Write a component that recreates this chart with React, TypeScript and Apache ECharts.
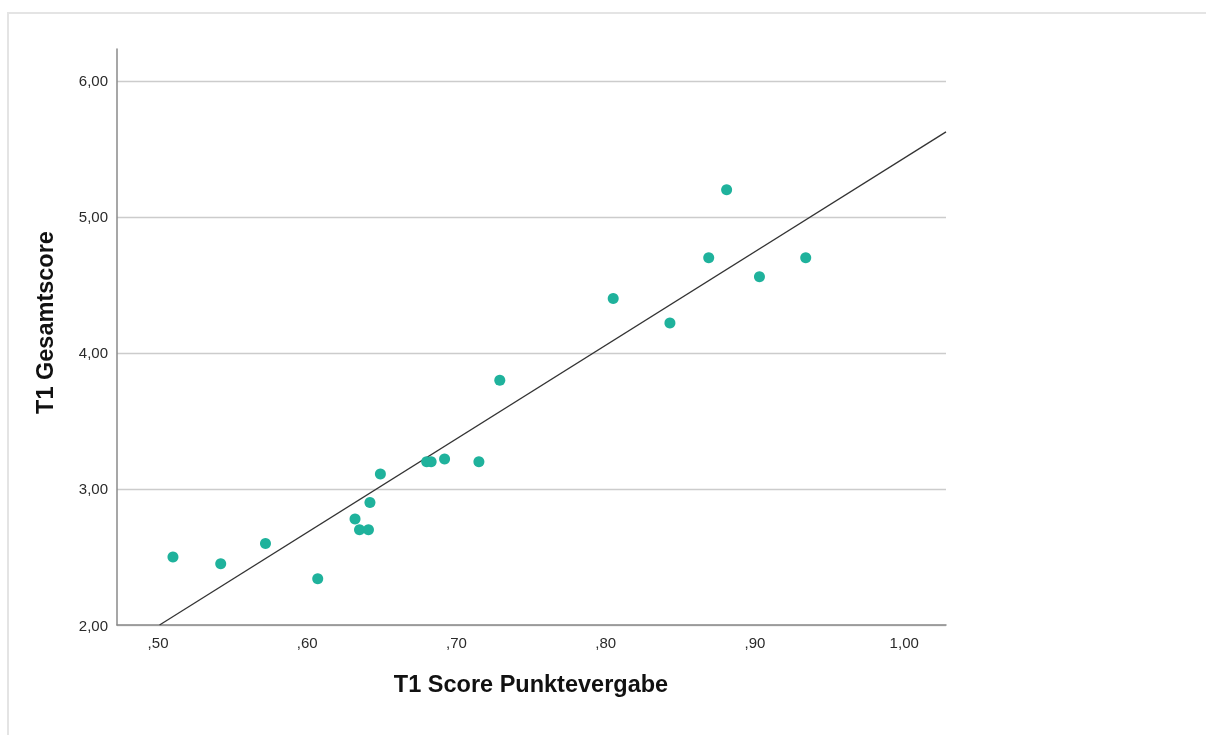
import React, { useEffect, useRef } from "react";
import * as echarts from "echarts";

const xValues = [0.51, 0.542, 0.572, 0.607, 0.632, 0.635, 0.641, 0.642, 0.649, 0.68, 0.683, 0.692, 0.715, 0.729, 0.805, 0.843, 0.869, 0.881, 0.903, 0.934];
const yValues = [2.5, 2.45, 2.6, 2.34, 2.78, 2.7, 2.7, 2.9, 3.11, 3.2, 3.2, 3.22, 3.2, 3.8, 4.4, 4.22, 4.7, 5.2, 4.56, 4.7];
const xTicks = [0.5, 0.6, 0.7, 0.8, 0.9, 1.0];
const fitIntercept = -1.447;
const fitSlope = 6.88;
const xMin = 0.4725;
const xMax = 1.028;
const yMin = 2;
const yMax = 6.235;

const fmt = (v: number) => {
  const s = v.toFixed(2).replace(".", ",");
  return s.startsWith("0,") ? s.slice(1) : s;
};

export default function App() {
  const ref = useRef<HTMLDivElement>(null);
  useEffect(() => {
    if (!ref.current) return;
    const chart = echarts.init(ref.current, undefined, { renderer: "svg" });
    const points = xValues.map((x, i) => [x, yValues[i]]);
    const xStart = (yMin - fitIntercept) / fitSlope;
    const fitLine = [
      [xStart, fitIntercept + fitSlope * xStart],
      [xMax, fitIntercept + fitSlope * xMax],
    ];
    const font = "'Liberation Sans', Arial, sans-serif";
    chart.setOption({
      animation: false,
      textStyle: { fontFamily: font },
      grid: { left: 109, right: 252, top: 41, bottom: 102 },
      xAxis: {
        type: "value",
        min: xMin,
        max: xMax,
        axisLine: { show: true, lineStyle: { color: "#8a8a8a", width: 1.5 } },
        axisTick: { show: false },
        splitLine: { show: false },
        axisLabel: {
          customValues: xTicks,
          formatter: (v: number) => fmt(v),
          fontSize: 15,
          color: "#2a2a2a",
          margin: 10,
          fontFamily: font,
        },
      },
      yAxis: {
        type: "value",
        min: yMin,
        max: yMax,
        interval: 1,
        axisLine: { show: true, lineStyle: { color: "#8a8a8a", width: 1.5 } },
        axisTick: { show: false },
        splitLine: { show: true, showMaxLine: false, lineStyle: { color: "#cccccc", width: 1.3 } },
        axisLabel: {
          showMaxLabel: false,
          formatter: (v: number) => (Math.abs(v - Math.round(v)) < 1e-9 ? fmt(v) : ""),
          fontSize: 15,
          color: "#2a2a2a",
          margin: 9,
          fontFamily: font,
        },
      },
      graphic: [
        {
          type: "text",
          x: 523,
          y: 676,
          style: {
            text: "T1 Score Punktevergabe",
            fontSize: 23.5,
            fontWeight: "bold",
            fontFamily: font,
            fill: "#111111",
            textAlign: "center",
            textVerticalAlign: "middle",
          },
        },
        {
          type: "text",
          x: 37,
          y: 314.5,
          rotation: Math.PI / 2,
          style: {
            text: "T1 Gesamtscore",
            fontSize: 23.5,
            fontWeight: "bold",
            fontFamily: font,
            fill: "#111111",
            textAlign: "center",
            textVerticalAlign: "middle",
          },
        },
      ],
      series: [
        {
          type: "line",
          data: fitLine,
          symbol: "none",
          clip: true,
          lineStyle: { color: "#333333", width: 1.3 },
          z: 2,
          silent: true,
        },
        {
          type: "scatter",
          data: points,
          symbolSize: 11,
          itemStyle: { color: "#1fb29c", opacity: 1 },
          z: 3,
        },
      ],
    });
    return () => chart.dispose();
  }, []);
  return (
    <>
      <div
        style={{
          position: "fixed",
          left: 7,
          top: 12,
          right: 0,
          bottom: 0,
          borderTop: "2px solid #e4e4e4",
          borderLeft: "2px solid #e4e4e4",
          pointerEvents: "none",
        }}
      />
      <div ref={ref} style={{ width: 1190, height: 719, position: "relative" }} />
    </>
  );
}
